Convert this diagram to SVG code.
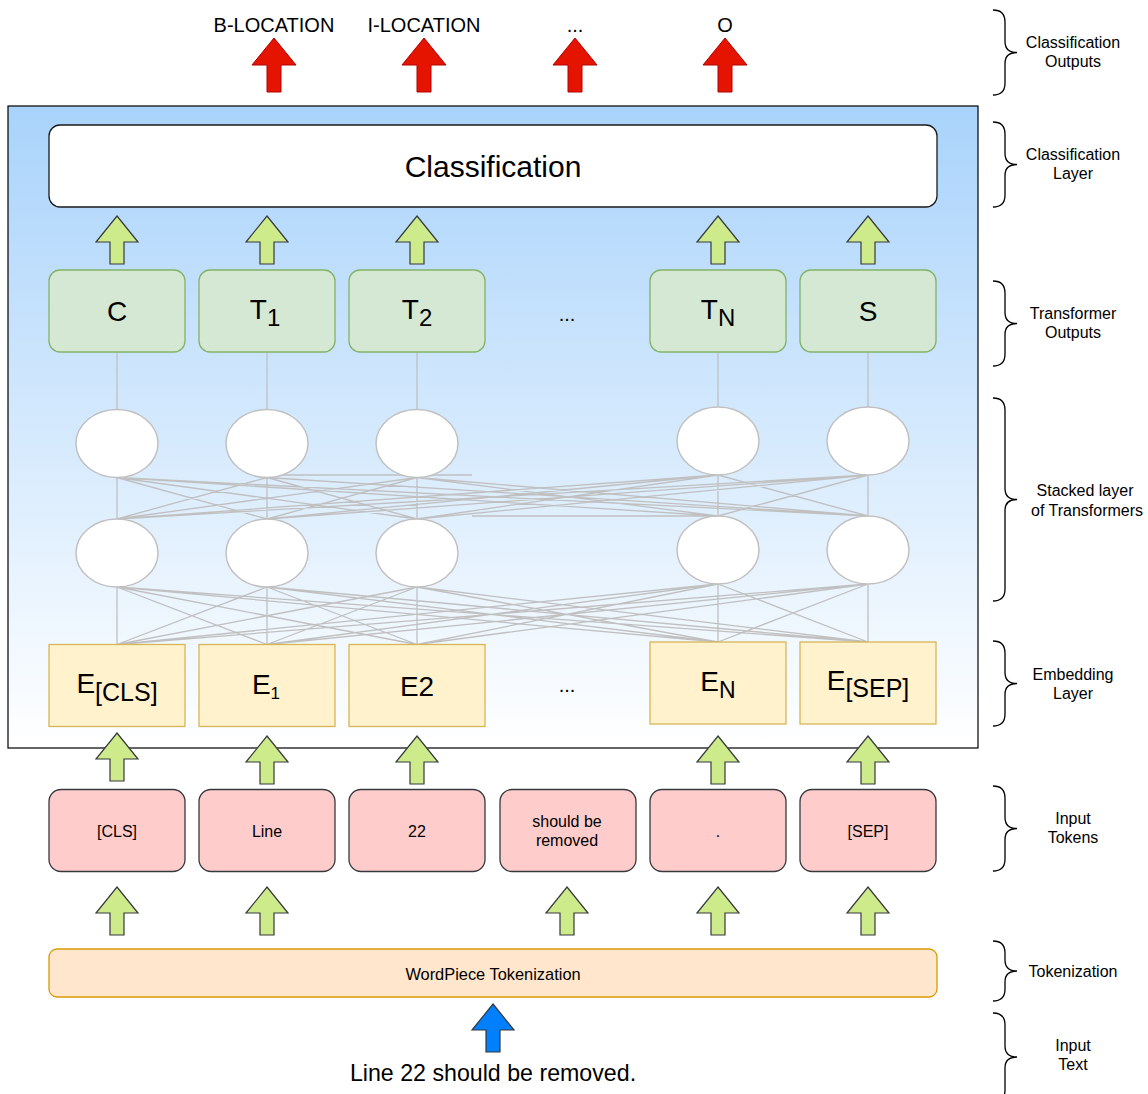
<svg xmlns="http://www.w3.org/2000/svg" width="1148" height="1094" viewBox="0 0 1148 1094">
<defs>
<linearGradient id="bg" x1="0" y1="0" x2="0" y2="1">
<stop offset="0" stop-color="#a9d3fb"/>
<stop offset="1" stop-color="#ffffff"/>
</linearGradient>
<path id="garrow" d="M0,0 L21,26 L7,26 L7,48 L-7,48 L-7,26 L-21,26 Z"/>
<path id="rarrow" d="M0,0 L22,27 L7,27 L7,54 L-7,54 L-7,27 L-22,27 Z"/>
</defs>
<style>
text{font-family:"Liberation Sans",Arial,Helvetica,sans-serif;fill:#000;text-anchor:middle}
.lbl{font-size:16px}
.tok{font-size:16px}
.big{font-size:28px}
.ga{fill:#cdeb8b;stroke:#36393d;stroke-width:1.2}
.ra{fill:#e51400;stroke:#b20000;stroke-width:1}
.net{stroke:#c0c0c0;stroke-width:1.3;fill:none}
.ell{fill:#fff;stroke:#c0c0c0;stroke-width:1.5}
.gbox{fill:#d5e8d4;stroke:#82b366;stroke-width:1.3}
.ebox{fill:#fff2cc;stroke:#d6b656;stroke-width:1.3}
.tbox{fill:#ffcccc;stroke:#36393d;stroke-width:1.3}
.brace{fill:none;stroke:#000;stroke-width:1.3}
</style>

<g id="container">
<rect x="8" y="106" width="970" height="642" fill="url(#bg)" stroke="#000" stroke-width="1.2"/>
</g>

<g id="outputs">
<text x="274" y="32" font-size="20">B-LOCATION</text>
<text x="424" y="32" font-size="20">I-LOCATION</text>
<text x="575" y="32" font-size="20">...</text>
<text x="725" y="32" font-size="20">O</text>
<use href="#rarrow" class="ra" x="274" y="38"/>
<use href="#rarrow" class="ra" x="424" y="38"/>
<use href="#rarrow" class="ra" x="575" y="38"/>
<use href="#rarrow" class="ra" x="725" y="38"/>
</g>

<g id="classification">
<rect x="49" y="125" width="888" height="82" rx="11" fill="#fff" stroke="#1a1a1a" stroke-width="1.3"/>
<text x="493" y="177" font-size="30">Classification</text>
</g>

<g id="connectors">
<path class="net" d="M117 352V410M267 352V410M417 352V410M718 352V407M868 352V407"/>
<path class="net" d="M117 477.5V519M267 477.5V519M417 477.5V519M718 475V516M868 475V516
M117 477.5L267 519M117 477.5L417 519M117 477.5L718 516M117 477.5L868 516
M267 477.5L117 519M267 477.5L417 519M267 477.5L868 516
M417 477.5L117 519M417 477.5L267 519M417 477.5L718 516M417 477.5L868 516
M718 475L117 519M718 475L267 519M718 475L417 519M718 475L868 516
M868 475L117 519M868 475L267 519M868 475L417 519M868 475L718 516
M267 475H472M472 516H718"/>
<path class="net" d="M117 587V644.5M267 587V644.5M417 587V644.5M718 584V642M868 584V642
M117 587L267 644.5M117 587L417 644.5M117 587L718 642M117 587L868 642
M267 587L117 644.5M267 587L417 644.5M267 587L718 642M267 587L868 642
M417 587L117 644.5M417 587L267 644.5M417 587L718 642M417 587L868 642
M718 584L117 644.5M718 584L267 644.5M718 584L417 644.5M718 584L868 642
M868 584L117 644.5M868 584L267 644.5M868 584L417 644.5M868 584L718 642"/>
</g>

<g id="arrows-cls">
<use href="#garrow" class="ga" x="117" y="216"/>
<use href="#garrow" class="ga" x="267" y="216"/>
<use href="#garrow" class="ga" x="417" y="216"/>
<use href="#garrow" class="ga" x="718" y="216"/>
<use href="#garrow" class="ga" x="868" y="216"/>
</g>

<g id="transformer-outputs">
<rect class="gbox" x="49" y="270" width="136" height="82" rx="11"/>
<text class="big" x="117" y="321">C</text>
<rect class="gbox" x="199" y="270" width="136" height="82" rx="11"/>
<text class="big" x="265" y="319">T<tspan font-size="24" dy="7">1</tspan></text>
<rect class="gbox" x="349" y="270" width="136" height="82" rx="11"/>
<text class="big" x="417" y="319">T<tspan font-size="24" dy="7">2</tspan></text>
<text x="567" y="321" font-size="20">...</text>
<rect class="gbox" x="650" y="270" width="136" height="82" rx="11"/>
<text class="big" x="718" y="319">T<tspan font-size="24" dy="7">N</tspan></text>
<rect class="gbox" x="800" y="270" width="136" height="82" rx="11"/>
<text class="big" x="868" y="321">S</text>
</g>

<g id="transformer-layer-2">
<ellipse class="ell" cx="117" cy="443.5" rx="41" ry="34"/>
<ellipse class="ell" cx="267" cy="443.5" rx="41" ry="34"/>
<ellipse class="ell" cx="417" cy="443.5" rx="41" ry="34"/>
<ellipse class="ell" cx="718" cy="441" rx="41" ry="34"/>
<ellipse class="ell" cx="868" cy="441" rx="41" ry="34"/>
</g>

<g id="transformer-layer-1">
<ellipse class="ell" cx="117" cy="553" rx="41" ry="34"/>
<ellipse class="ell" cx="267" cy="553" rx="41" ry="34"/>
<ellipse class="ell" cx="417" cy="553" rx="41" ry="34"/>
<ellipse class="ell" cx="718" cy="550" rx="41" ry="34"/>
<ellipse class="ell" cx="868" cy="550" rx="41" ry="34"/>
</g>

<g id="embeddings">
<rect class="ebox" x="49" y="644.5" width="136" height="82"/>
<text class="big" x="117" y="693">E<tspan font-size="25" dy="8">[CLS]</tspan></text>
<rect class="ebox" x="199" y="644.5" width="136" height="82"/>
<text class="big" x="266" y="694">E<tspan font-size="17" dy="5">1</tspan></text>
<rect class="ebox" x="349" y="644.5" width="136" height="82"/>
<text class="big" x="417" y="696">E2</text>
<text x="567" y="692" font-size="20">...</text>
<rect class="ebox" x="650" y="642" width="136" height="82"/>
<text class="big" x="718" y="691">E<tspan font-size="23" dy="6.5">N</tspan></text>
<rect class="ebox" x="800" y="642" width="136" height="82"/>
<text class="big" x="868" y="690">E<tspan font-size="25" dy="7">[SEP]</tspan></text>
</g>

<g id="arrows-emb">
<use href="#garrow" class="ga" x="117" y="733"/>
<use href="#garrow" class="ga" x="267" y="736"/>
<use href="#garrow" class="ga" x="417" y="736"/>
<use href="#garrow" class="ga" x="718" y="736"/>
<use href="#garrow" class="ga" x="868" y="736"/>
</g>

<g id="input-tokens">
<rect class="tbox" x="49" y="789.5" width="136" height="82" rx="12"/>
<text class="tok" x="117" y="837">[CLS]</text>
<rect class="tbox" x="199" y="789.5" width="136" height="82" rx="12"/>
<text class="tok" x="267" y="837">Line</text>
<rect class="tbox" x="349" y="789.5" width="136" height="82" rx="12"/>
<text class="tok" x="417" y="837">22</text>
<rect class="tbox" x="500" y="789.5" width="136" height="82" rx="12"/>
<text class="tok" x="567" y="827">should be</text>
<text class="tok" x="567" y="846">removed</text>
<rect class="tbox" x="650" y="789.5" width="136" height="82" rx="12"/>
<text class="tok" x="718" y="837">.</text>
<rect class="tbox" x="800" y="789.5" width="136" height="82" rx="12"/>
<text class="tok" x="868" y="837">[SEP]</text>
</g>

<g id="arrows-tok">
<use href="#garrow" class="ga" x="117" y="887"/>
<use href="#garrow" class="ga" x="267" y="887"/>
<use href="#garrow" class="ga" x="567" y="887"/>
<use href="#garrow" class="ga" x="718" y="887"/>
<use href="#garrow" class="ga" x="868" y="887"/>
</g>

<g id="tokenization">
<rect x="49" y="949" width="888" height="48" rx="8" fill="#ffe6cc" stroke="#d79b00" stroke-width="1.3"/>
<text x="493" y="980" font-size="16.4">WordPiece Tokenization</text>
</g>

<g id="input-text">
<path d="M493,1004 L514,1030 L500,1030 L500,1052 L486,1052 L486,1030 L472,1030 Z" fill="#007fff" stroke="#36393d" stroke-width="1.2"/>
<text x="493" y="1081" font-size="23.2">Line 22 should be removed.</text>
</g>

<g id="braces">
<path class="brace" d="M993,10 Q1005,10 1005,22 L1005,41.5 Q1005,52.5 1017,52.5 Q1005,52.5 1005,63.5 L1005,83 Q1005,95 993,95"/>
<path class="brace" d="M993,122 Q1005,122 1005,134 L1005,153.5 Q1005,164.5 1017,164.5 Q1005,164.5 1005,175.5 L1005,195 Q1005,207 993,207"/>
<path class="brace" d="M993,281 Q1005,281 1005,293 L1005,312.5 Q1005,323.5 1017,323.5 Q1005,323.5 1005,334.5 L1005,354 Q1005,366 993,366"/>
<path class="brace" d="M993,398 Q1005,398 1005,410 L1005,488.5 Q1005,499.5 1017,499.5 Q1005,499.5 1005,510.5 L1005,589 Q1005,601 993,601"/>
<path class="brace" d="M993,641 Q1005,641 1005,653 L1005,672.5 Q1005,683.5 1017,683.5 Q1005,683.5 1005,694.5 L1005,714 Q1005,726 993,726"/>
<path class="brace" d="M993,786 Q1005,786 1005,798 L1005,817.5 Q1005,828.5 1017,828.5 Q1005,828.5 1005,839.5 L1005,859 Q1005,871 993,871"/>
<path class="brace" d="M993,941 Q1005,941 1005,953 L1005,960 Q1005,971 1017,971 Q1005,971 1005,982 L1005,989 Q1005,1001 993,1001"/>
<path class="brace" d="M993,1013 Q1005,1013 1005,1025 L1005,1046 Q1005,1057 1017,1057 Q1005,1057 1005,1068 L1005,1090 Q1005,1102 993,1102"/>
</g>

<g id="labels">
<text class="lbl" x="1073" y="48">Classification</text>
<text class="lbl" x="1073" y="67">Outputs</text>
<text class="lbl" x="1073" y="160">Classification</text>
<text class="lbl" x="1073" y="179">Layer</text>
<text class="lbl" x="1073" y="319">Transformer</text>
<text class="lbl" x="1073" y="338">Outputs</text>
<text class="lbl" x="1085" y="496">Stacked layer</text>
<text class="lbl" x="1087" y="516">of Transformers</text>
<text class="lbl" x="1073" y="680">Embedding</text>
<text class="lbl" x="1073" y="699">Layer</text>
<text class="lbl" x="1073" y="824">Input</text>
<text class="lbl" x="1073" y="843">Tokens</text>
<text class="lbl" x="1073" y="977">Tokenization</text>
<text class="lbl" x="1073" y="1051">Input</text>
<text class="lbl" x="1073" y="1070">Text</text>
</g>
</svg>
